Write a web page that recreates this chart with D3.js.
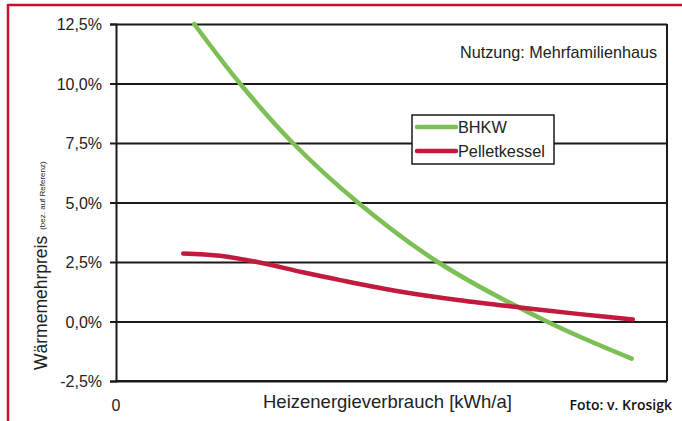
<!DOCTYPE html>
<html>
<head>
<meta charset="utf-8">
<script src="https://cdn.jsdelivr.net/npm/d3@7"></script>
<style>
  body { margin: 0; background: #fff; }
  svg { display: block; font-family: "Liberation Sans", Arial, sans-serif; }
</style>
</head>
<body>
<svg id="chart" width="682" height="421"></svg>
<script>
// Values (x in relative units of consumption, y in %)
const yTicks = [-2.5, 0, 2.5, 5, 7.5, 10, 12.5];
const bhkwX = [14.2, 22.5, 32.1, 43.9, 58.4, 78.2, 93.6];
const bhkwY = [12.5, 10.0, 7.5, 5.0, 2.5, 0.0, -1.56];
const pelletX = [12.2, 18.9, 25.6, 33.9, 40.7, 51.5, 62.4, 73.3, 84.2, 93.8];
const pelletY = [2.86, 2.76, 2.5, 2.07, 1.74, 1.26, 0.89, 0.59, 0.31, 0.08];
const seriesNames = ['BHKW', 'Pelletkessel'];
const seriesColors = ['#7cbf55', '#c01a3c'];

const margin = {top: 24, right: 15, bottom: 40, left: 116};
const svg = d3.select('#chart');
const width = 667 - margin.left;
const height = 381 - margin.top;

// red frame of the page
svg.append('line').attr('x1', 8).attr('x2', 682).attr('y1', 5).attr('y2', 5)
    .attr('stroke', '#c8102e').attr('stroke-width', 2.5);
svg.append('line').attr('x1', 8).attr('x2', 8).attr('y1', 4).attr('y2', 421)
    .attr('stroke', '#c8102e').attr('stroke-width', 2.5);

const chart = svg.append('g')
    .attr('transform', `translate(${margin.left},${margin.top})`);

const x = d3.scaleLinear().domain([0, 100]).range([0, width]);
const y = d3.scaleLinear().domain([-2.5, 12.5]).range([height, 0]);

// gridlines
chart.append('g')
    .call(d3.axisLeft(y).tickValues(yTicks).tickSize(-width).tickFormat(''))
    .call(g => g.select('.domain').remove())
    .call(g => g.selectAll('line').attr('stroke', '#1a1a1a').attr('stroke-width', 2));

// left axis with ticks and labels
const fmt = d => d3.format('.1f')(d).replace('.', ',').replace('−', '-') + '%';
chart.append('g')
    .call(d3.axisLeft(y).tickValues(yTicks).tickSize(6).tickPadding(8).tickFormat(fmt))
    .call(g => g.select('.domain').attr('stroke', '#1a1a1a').attr('stroke-width', 2))
    .call(g => g.selectAll('line').attr('stroke', '#1a1a1a').attr('stroke-width', 2))
    .call(g => g.selectAll('text').attr('fill', '#222').style('font-size', '16px').attr('dy', '0.36em'));

// right and bottom border
chart.append('line').attr('x1', width).attr('x2', width).attr('y1', 0).attr('y2', height)
    .attr('stroke', '#1a1a1a').attr('stroke-width', 2);
chart.append('line').attr('x1', 0).attr('x2', width).attr('y1', height).attr('y2', height)
    .attr('stroke', '#1a1a1a').attr('stroke-width', 2);

// x axis: only the zero label
chart.append('text')
    .attr('x', x(0)).attr('y', height + 30)
    .attr('text-anchor', 'middle').attr('fill', '#222')
    .style('font-size', '16px').text('0');

// lines
const series = [
    bhkwX.map((v, i) => ({x: v, y: bhkwY[i]})),
    pelletX.map((v, i) => ({x: v, y: pelletY[i]}))
];
const line = d3.line().x(d => x(d.x)).y(d => y(d.y)).curve(d3.curveCatmullRom.alpha(0.5));
series.forEach((s, i) => {
    chart.append('path')
        .datum(s)
        .attr('d', line)
        .attr('fill', 'none')
        .attr('stroke', seriesColors[i])
        .attr('stroke-width', 4.5)
        .attr('stroke-linecap', 'round');
});

// legend
const legend = svg.append('g').attr('transform', 'translate(412,115)');
legend.append('rect').attr('width', 142).attr('height', 49)
    .attr('fill', '#fff').attr('stroke', '#1a1a1a').attr('stroke-width', 1.5);
seriesNames.forEach((name, i) => {
    legend.append('line').attr('x1', 5).attr('x2', 44)
        .attr('y1', 12 + i * 24).attr('y2', 12 + i * 24)
        .attr('stroke', seriesColors[i]).attr('stroke-width', 4.5)
        .attr('stroke-linecap', 'round');
    legend.append('text').attr('x', 46).attr('y', 12 + i * 24).attr('dy', '0.36em')
        .attr('fill', '#222').style('font-size', '16.3px').text(name);
});

// annotation
svg.append('text').attr('x', 657).attr('y', 58).attr('text-anchor', 'end')
    .attr('fill', '#222').style('font-size', '16.2px').text('Nutzung: Mehrfamilienhaus');

// axis titles
svg.append('text').attr('x', 263).attr('y', 408)
    .attr('fill', '#222').style('font-size', '18.5px').text('Heizenergieverbrauch [kWh/a]');

const yTitle = svg.append('text')
    .attr('transform', 'translate(47,370) rotate(-90)')
    .attr('fill', '#222');
yTitle.append('tspan').style('font-size', '17.5px').text('Wärmemehrpreis');
yTitle.append('tspan').attr('dx', 6).attr('dy', -2).style('font-size', '8px').text('(bez. auf Referenz)');

svg.append('text').attr('x', 672).attr('y', 410).attr('text-anchor', 'end')
    .attr('fill', '#111').style('font-family', '"Open Sans", sans-serif')
    .style('font-weight', 600).style('font-size', '14px').text('Foto: v. Krosigk');
</script>
</body>
</html>
